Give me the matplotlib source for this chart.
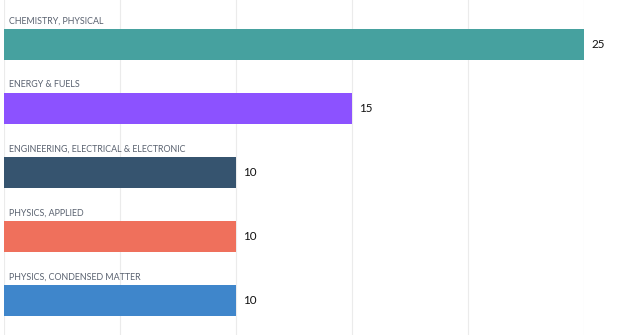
import matplotlib
matplotlib.use("Agg")
import matplotlib.pyplot as plt

categories = [
    "CHEMISTRY, PHYSICAL",
    "ENERGY & FUELS",
    "ENGINEERING, ELECTRICAL & ELECTRONIC",
    "PHYSICS, APPLIED",
    "PHYSICS, CONDENSED MATTER",
]
values = [25, 15, 10, 10, 10]
colors = ["#46A19F", "#8C52FF", "#36546F", "#EF705C", "#3F86CB"]
grid_ticks = [0, 5, 10, 15, 20, 25]

W, H = 644, 335
fig = plt.figure(figsize=(W / 100, H / 100), dpi=100)
ax = fig.add_axes([4 / W, 0, 580 / W, 1])

ax.set_xlim(0, 25)
ax.set_ylim(4.539, -0.695)

for x in grid_ticks:
    ax.axvline(x, color="#EBEBEB", lw=0.8, zorder=0)

ypos = list(range(len(categories)))
ax.barh(ypos, values, height=0.484, color=colors, zorder=2)

for y, cat, v in zip(ypos, categories, values):
    ax.text(0.215, y - 0.37, cat, fontsize=6.4, color="#5A6270",
            va="center", ha="left", family="Lato")
    ax.text(v + 0.32, y, str(v), fontsize=8.4, color="#111111",
            va="center", ha="left", family="Lato", clip_on=False)

ax.axis("off")
fig.savefig("out.png", dpi=100)
